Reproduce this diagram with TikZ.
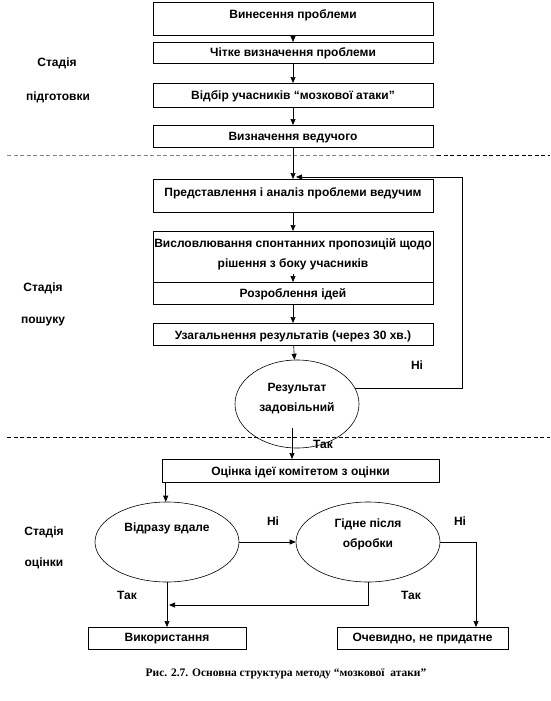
\documentclass[tikz,border=0pt]{standalone}
\usepackage{fontspec}
\setmainfont{Liberation Sans}
\newfontfamily\capfont{Liberation Serif}
\usetikzlibrary{arrows.meta,positioning,calc,shapes.geometric}

\newcommand\twolines[2]{\begin{tabular}[t]{@{}c@{}}#1\\[6pt]#2\end{tabular}}

\tikzset{
  stepbox/.style={draw, rectangle, inner sep=0pt, minimum width=280pt, anchor=north},
  decision/.style={draw, ellipse, inner sep=0pt},
  flow/.style={-{Triangle[length=6pt,width=5pt]}},
  sep/.style={dash pattern=on 4pt off 2.5pt}
}

\begin{document}
\begin{tikzpicture}[x=1pt, y=-1pt, line width=0.6pt,
    font=\bfseries\fontsize{12}{14}\selectfont]
  \useasboundingbox (0,0) rectangle (550,701);

  % stage borders
  \draw[sep, gray] (7,155) -- (437,155);
  \draw[sep] (437,155) -- (550,155);
  \draw[sep] (7,437) -- (550,437);

  % stage labels
  \node (st1) at (57,63) {Стадія};
  \node (st1b) at (58,97) {підготовки};
  \node (st2) at (43,288) {Стадія};
  \node (st2b) at (43,322) {пошуку};
  \node (st3) at (44,532) {Стадія};
  \node (st3b) at (44,563) {оцінки};

  % preparation
  \node[stepbox, text height=16pt, text depth=17pt] (pose) at (293,2) {Винесення проблеми};
  \node[stepbox, text height=14pt, text depth=7pt] (define) at (293,42) {Чітке визначення проблеми};
  \node[stepbox, text height=16pt, text depth=8pt] (select) at (293,83) {Відбір учасників “мозкової атаки”};
  \node[stepbox, text height=15pt, text depth=7pt] (leader) at (293,125) {Визначення ведучого};

  % search
  \node[stepbox, text height=17pt, text depth=16pt] (present) at (293,179) {Представлення і аналіз проблеми ведучим};
  \node[stepbox, text height=16pt, text depth=35pt] (propose) at (293,231)
    {\twolines{Висловлювання спонтанних пропозицій щодо}{рішення з боку учасників}};
  \node[stepbox, text height=15pt, text depth=7pt] (develop) at (293,282) {Розроблення ідей};
  \node[stepbox, text height=16pt, text depth=6pt] (summary) at (293,323) {Узагальнення результатів (через 30 хв.)};
  \node[decision, minimum width=124pt, minimum height=88pt, text height=5pt, text depth=31pt]
    (result) at (297,404) {\twolines{Результат}{задовільний}};

  % assessment
  \node[stepbox, minimum width=277pt, text height=16pt, text depth=7pt] (assess) at (300.5,459) {Оцінка ідеї комітетом з оцінки};
  \node[decision, minimum width=144pt, minimum height=80pt, text height=5pt, text depth=27pt]
    (atonce) at (167,542) {Відразу вдале};
  \node[decision, minimum width=144pt, minimum height=80pt, text height=5pt, text depth=35pt]
    (rework) at (368,542) {\twolines{Гідне після}{обробки}};
  \node[stepbox, minimum width=158pt, text height=14pt, text depth=8pt] (use) at (167,627) {Використання};
  \node[stepbox, minimum width=171pt, text height=14pt, text depth=8pt] (unfit) at (422.5,627) {Очевидно, не придатне};

  % answers
  \node (no1) at (417,365) {Ні};
  \node (yes1) at (323,444) {Так};
  \node (no2) at (273,521) {Ні};
  \node (no3) at (460,521) {Ні};
  \node (yes2) at (127,595) {Так};
  \node (yes3) at (411,595) {Так};

  % connectors
  \draw[flow] (pose) -- (define);
  \draw[flow] (define) -- (select);
  \draw[flow] (select) -- (leader);
  \draw[flow] (leader) -- (present);
  \draw[flow] (present) -- (propose);
  \coordinate (inner) at ($(develop.north)+(0,-8)$);
  \draw[flow] (inner) -- (develop.north);
  \draw[flow] (develop) -- (summary);
  \draw[flow] (summary) -- (result);

  \coordinate (loop) at (462,177);
  \coordinate (back) at (296,177);
  \draw[flow] (result.15) -| (loop) -- (back);

  \coordinate (pass) at ($(result.center)+(-5,24)$);
  \draw[flow] (pass) -- (pass |- assess.north);
  \coordinate (tail) at ($(assess.south west)+(4,0)$);
  \draw[flow] (tail) -- (tail |- atonce.north);

  \draw[flow] (atonce) -- (rework);
  \draw[flow] (rework.east) -| ($(unfit.north)+(53.5,0)$);
  \draw[flow] (atonce) -- (use);
  \coordinate (merge) at (169,605);
  \draw[flow] (rework.south) |- (merge);

  % caption
  \node[font=\capfont\bfseries\fontsize{11.5}{13}\selectfont] (caption) at (286,674)
    {Рис. 2.7. Основна структура методу “мозкової\ \ атаки”};
\end{tikzpicture}
\end{document}
